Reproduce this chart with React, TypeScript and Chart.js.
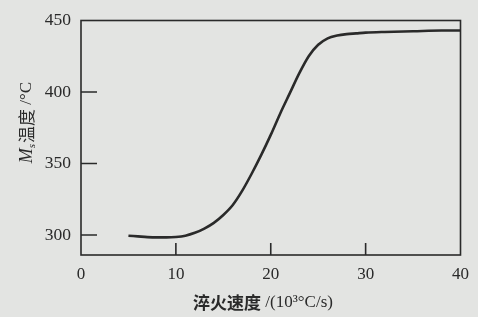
import React, { useEffect, useRef } from "react";
import { Chart, registerables } from "chart.js";

Chart.register(...registerables);

const speedX: number[] = [5, 6, 7, 8, 9, 10, 11, 12, 13, 14, 15, 16, 17, 18, 19, 20, 21, 22, 23, 24, 25, 26, 27, 28, 29, 30, 32, 35, 38, 40];
const msTemp: number[] = [299.5, 299, 298.5, 298.3, 298.3, 298.6, 299.5, 301.5, 304.5, 308.5, 314, 321, 331, 343, 356, 370, 385, 399, 413, 425, 433, 437.5, 439.5, 440.5, 441, 441.5, 442, 442.5, 443, 443];
const xTickValues: number[] = [0, 10, 20, 30, 40];
const yTickValues: number[] = [300, 350, 400, 450];
const xInnerTicks: number[] = [10, 20, 30];
const yInnerTicks: number[] = [300, 350, 400];
const xTitleCJK = "淬火速度";
const xTitleRest = " /(10³°C/s)";
const yTitleCJK = "温度";
const yTitleRest = " /°C";

const INK = "#2a2a2a";
const BG = "#e3e4e2";

const decorPlugin = {
  id: "decor",
  beforeDraw(chart: any) {
    const { ctx, width, height } = chart;
    ctx.save();
    ctx.fillStyle = BG;
    ctx.fillRect(0, 0, width, height);
    ctx.restore();
  },
  afterDraw(chart: any) {
    const { ctx, chartArea } = chart;
    const xs = chart.scales.x;
    const ys = chart.scales.y;
    const { left, right, top, bottom } = chartArea;
    ctx.save();
    ctx.strokeStyle = INK;
    ctx.lineWidth = 1.6;
    ctx.strokeRect(left, top, right - left, bottom - top);
    ctx.lineWidth = 1.6;
    ctx.beginPath();
    for (const v of yInnerTicks) {
      const y = ys.getPixelForValue(v);
      ctx.moveTo(left, y);
      ctx.lineTo(left + 16, y);
    }
    for (const v of xInnerTicks) {
      const x = xs.getPixelForValue(v);
      ctx.moveTo(x, bottom);
      ctx.lineTo(x, bottom - 12);
    }
    ctx.stroke();

    // x title
    ctx.fillStyle = INK;
    ctx.textBaseline = "middle";
    const cjkFontB = "bold 17px 'Noto Sans CJK SC'";
    const serif = "17px 'Liberation Serif'";
    ctx.font = cjkFontB;
    const w1 = ctx.measureText(xTitleCJK).width;
    ctx.font = serif;
    const w2 = ctx.measureText(xTitleRest).width;
    const cx = 263;
    let x0 = cx - (w1 + w2) / 2;
    const ty = 303;
    ctx.font = cjkFontB;
    ctx.textAlign = "left";
    ctx.fillText(xTitleCJK, x0, ty);
    ctx.font = serif;
    ctx.fillText(xTitleRest, x0 + w1, ty);

    // y title (rotated)
    ctx.save();
    ctx.translate(27, 123);
    ctx.rotate(-Math.PI / 2);
    const mFont = "italic 18px 'Liberation Serif'";
    const sFont = "italic 11px 'Liberation Serif'";
    const cjk = "17px 'Noto Sans CJK SC'";
    ctx.font = mFont;
    const wm = ctx.measureText("M").width;
    ctx.font = sFont;
    const ws = ctx.measureText("s").width;
    ctx.font = cjk;
    const wc = ctx.measureText(yTitleCJK).width;
    ctx.font = serif;
    const wr = ctx.measureText(yTitleRest).width;
    let px = -(wm + ws + wc + wr) / 2;
    ctx.textAlign = "left";
    ctx.font = mFont;
    ctx.fillText("M", px, 0);
    px += wm;
    ctx.font = sFont;
    ctx.fillText("s", px, 5);
    px += ws + 1;
    ctx.font = cjk;
    ctx.fillText(yTitleCJK, px, 0);
    px += wc;
    ctx.font = serif;
    ctx.fillText(yTitleRest, px, 0);
    ctx.restore();
    ctx.restore();
  },
};

export default function App() {
  const ref = useRef<HTMLCanvasElement | null>(null);
  useEffect(() => {
    if (!ref.current) return;
    const chart = new Chart(ref.current, {
      type: "scatter",
      data: {
        datasets: [
          {
            data: speedX.map((x, i) => ({ x, y: msTemp[i] })),
            showLine: true,
            borderColor: INK,
            borderWidth: 2.6,
            pointRadius: 0,
            cubicInterpolationMode: "monotone",
            fill: false,
          } as any,
        ],
      },
      plugins: [decorPlugin],
      options: {
        animation: false,
        responsive: false,
        maintainAspectRatio: false,
        layout: { padding: { left: 0, right: 12, top: 14, bottom: 0 } },
        plugins: { legend: { display: false }, tooltip: { enabled: false } },
        scales: {
          x: {
            type: "linear",
            min: 0,
            max: 40,
            afterBuildTicks: (s: any) => {
              s.ticks = xTickValues.map((v) => ({ value: v }));
            },
            afterFit: (s: any) => {
              s.height = 62;
            },
            grid: { display: false, drawTicks: false },
            border: { display: false },
            ticks: {
              color: INK,
              padding: 9,
              font: { family: "'Liberation Serif'", size: 17 },
            },
          },
          y: {
            type: "linear",
            min: 286,
            max: 450,
            afterBuildTicks: (s: any) => {
              s.ticks = yTickValues.map((v) => ({ value: v }));
            },
            afterFit: (s: any) => {
              s.width = 81;
            },
            grid: { display: false, drawTicks: false },
            border: { display: false },
            ticks: {
              color: INK,
              padding: 10,
              font: { family: "'Liberation Serif'", size: 17.5 },
            },
          },
        },
      },
    });
    return () => chart.destroy();
  }, []);
  return (
    <div style={{ position: "fixed", left: 0, top: 0, width: 478, height: 317 }}>
      <canvas ref={ref} width={478} height={317} style={{ display: "block" }} />
    </div>
  );
}
